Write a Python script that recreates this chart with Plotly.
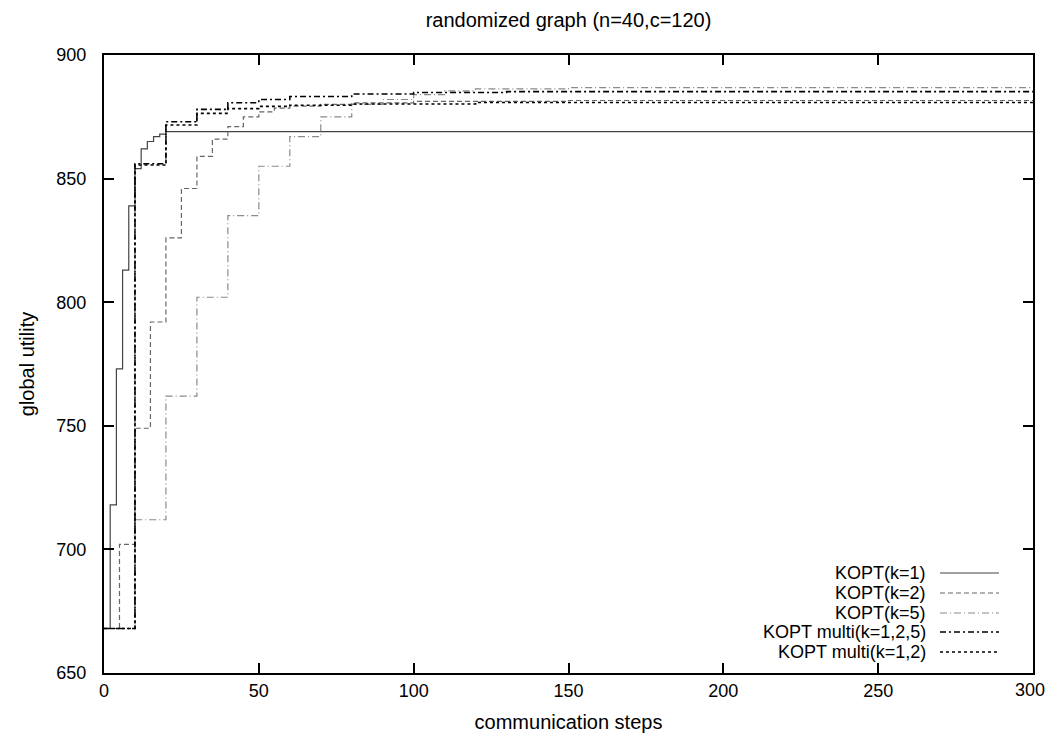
import plotly.graph_objects as go

# ---- data (step functions: value holds from x until next x) ----
x_k1 = [0, 2, 4, 6, 8, 10, 12, 14, 16, 18, 20, 300]
y_k1 = [668, 718, 773, 813, 839, 854, 862, 865, 867, 868, 869, 869]

x_k2 = [0, 5, 10, 15, 20, 25, 30, 35, 40, 45, 50, 55, 60, 70, 80, 100, 150, 300]
y_k2 = [668, 702, 749, 792, 826, 846, 859, 866, 871, 875, 877, 878.5, 879.3, 880, 880.6, 881.2, 881.6, 881.8]

x_k5 = [0, 10, 20, 30, 40, 50, 60, 70, 80, 90, 100, 110, 120, 150, 300]
y_k5 = [668, 712, 762, 802, 835, 855, 867, 875, 880, 882, 884, 885.5, 886.3, 886.8, 886.8]

x_m125 = [0, 10, 20, 30, 40, 50, 60, 80, 100, 130, 300]
y_m125 = [668, 856, 873, 878, 880.7, 882, 883.2, 884.2, 884.8, 885.2, 885.2]

x_m12 = [0, 10, 20, 30, 40, 50, 60, 80, 120, 300]
y_m12 = [668, 855.5, 871.7, 876.4, 878.3, 879.2, 879.7, 880.2, 880.8, 880.9]

names = ["KOPT(k=1)", "KOPT(k=2)", "KOPT(k=5)", "KOPT multi(k=1,2,5)", "KOPT multi(k=1,2)"]
xs = [x_k1, x_k2, x_k5, x_m125, x_m12]
ys = [y_k1, y_k2, y_k5, y_m125, y_m12]
colors = ["#444444", "#666666", "#8a8a8a", "#000000", "#000000"]
dashes = ["solid", "5px,3px", "7px,3px,1px,3px", "6px,3px,2px,3px", "3px,3px"]
widths = [1.2, 1.2, 1.2, 1.6, 1.6]

x_ticks = [0, 50, 100, 150, 200, 250, 300]
x_tick_text = ["0", "50", "100", "150", "200", "250", ""]   # last label drawn as annotation to keep it inside the page
y_ticks = [650, 700, 750, 800, 850, 900]

FONT = "Liberation Sans, Arial, sans-serif"

W, H = 1045, 734
plot_top, plot_bot, plot_l, plot_r = 55, 673, 104, 1033

fig = go.Figure()
for x, y, n, c, d, w in zip(xs, ys, names, colors, dashes, widths):
    fig.add_trace(go.Scatter(x=x, y=y, mode="lines", name=n, line_shape="hv",
                             line=dict(color=c, dash=d, width=w), showlegend=False))

# manual gnuplot-style legend (text right-aligned, sample to the right)
leg_y_px = [573, 593, 613, 632, 652]
for i, (n, c, d, w) in enumerate(zip(names, colors, dashes, widths)):
    yp = (plot_bot - leg_y_px[i]) / (plot_bot - plot_top)
    fig.add_annotation(x=(927 - plot_l) / (plot_r - plot_l), y=yp, xref="paper", yref="paper",
                       text=n, showarrow=False, xanchor="right", yanchor="middle",
                       borderpad=0,
                       font=dict(family=FONT, size=18, color="black"))
    fig.add_shape(type="line", xref="paper", yref="paper",
                  x0=(940 - plot_l) / (plot_r - plot_l), x1=(999 - plot_l) / (plot_r - plot_l),
                  y0=yp, y1=yp, line=dict(color=c, dash=d, width=w))

# last x tick label
fig.add_annotation(x=x_ticks[-1], y=0, xref="x", yref="paper", text=str(x_ticks[-1]),
                   showarrow=False, xanchor="center", yanchor="middle", xshift=-3, yshift=-17,
                   borderpad=0, font=dict(family=FONT, size=18, color="black"))

fig.update_layout(
    width=W, height=H,
    margin=dict(l=plot_l, r=(W - plot_r), t=plot_top, b=(H - plot_bot)),
    paper_bgcolor="white", plot_bgcolor="white",
    font=dict(family=FONT, size=18, color="black"),
    title=dict(text="randomized graph (n=40,c=120)",
               x=((plot_l + plot_r) / 2) / W, xanchor="center",
               y=1 - 20 / H, yanchor="middle", font=dict(family=FONT, size=20)),
)
fig.update_xaxes(range=[0, 300], tickvals=x_ticks, ticktext=x_tick_text, ticks="inside", ticklen=10,
                 tickwidth=1.5, tickcolor="black", showline=True, linecolor="black", linewidth=2,
                 mirror="ticks", showgrid=False, zeroline=False, automargin=False,
                 title=dict(text="communication steps", standoff=15, font=dict(family=FONT, size=20)),
                 tickfont=dict(family=FONT, size=18))
fig.update_yaxes(range=[650, 900], tickvals=y_ticks, ticks="inside", ticklen=10, tickwidth=1.5,
                 tickcolor="black", showline=True, linecolor="black", linewidth=2, mirror="ticks",
                 showgrid=False, zeroline=False, automargin=False, ticklabelstandoff=12,
                 title=dict(text="global utility", standoff=16, font=dict(family=FONT, size=20)),
                 tickfont=dict(family=FONT, size=18))

fig.write_html("out.html", config={"displayModeBar": False},
               post_script="document.body.style.margin='0px';document.body.style.overflow='hidden';")
